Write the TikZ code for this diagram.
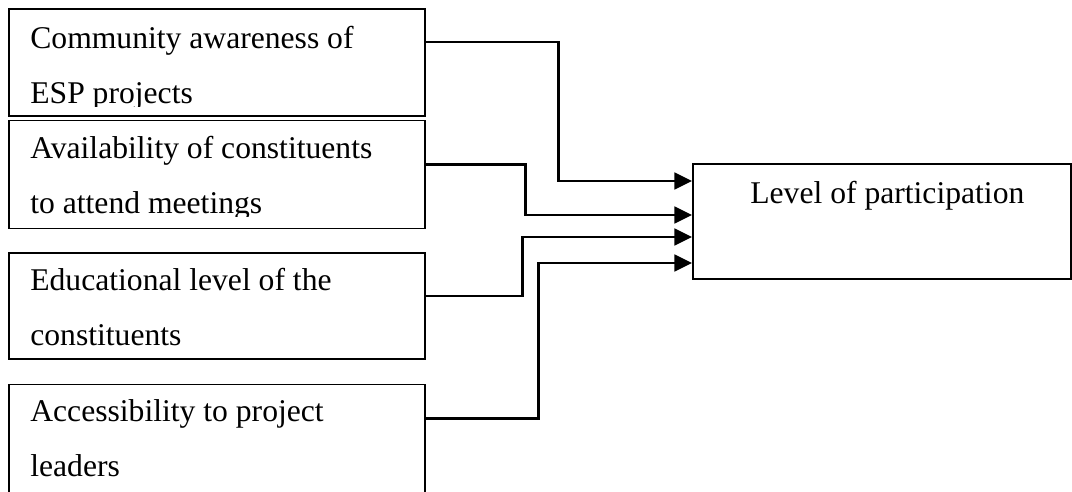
\documentclass[tikz,border=0pt]{standalone}
\usepackage{fontspec}
\setmainfont{Liberation Serif}
\usetikzlibrary{calc}
\usetikzlibrary{positioning}
\usetikzlibrary{arrows.meta}

\begin{document}
\begin{tikzpicture}[x=0.02cm,y=-0.02cm,>={Triangle[length=10pt,width=9.5pt]},
    box/.style={draw,line width=0.9pt,inner sep=0pt,anchor=north west,minimum width=8.32cm},
    boxtext/.style={anchor=base west,align=left,inner sep=0pt,font=\fontsize{18}{31.2}\selectfont},
    conn/.style={->,line width=1.5pt}]
    \clip (0,0) rectangle (1072,491);
    % factor boxes
    \node[box,minimum height=2.14cm] (aware) at (8,8) {};
    \node[box,minimum height=2.16cm,below=0.06cm of aware] (avail) {};
    \node[box,minimum height=2.12cm,below=0.46cm of avail] (educ) {};
    \node[box,minimum height=2.5cm,below=0.48cm of educ] (access) {};
    \node[box,minimum width=7.56cm,minimum height=2.3cm] (level) at (692,163) {};

    % texts (anchored at their last line)
    \begin{scope}
    \clip (aware.north west) rectangle ($(aware.south east)+(0,-10)$);
    \node[boxtext] (awaretxt) at ($(aware.north west)+(22,95)$) {Community awareness of\\ESP projects};
    \end{scope}
    \begin{scope}
    \clip (avail.north west) rectangle ($(avail.south east)+(0,-13)$);
    \node[boxtext] (availtxt) at ($(avail.north west)+(22,94)$) {Availability of constituents\\to attend meetings};
    \end{scope}
    \node[boxtext] (eductxt) at ($(educ.north west)+(22,93)$) {Educational level of the\\constituents};
    \node[boxtext] (accesstxt) at ($(access.north west)+(22,93)$) {Accessibility to project\\leaders};
    \node[boxtext] (leveltxt) at ($(level.north west)+(58,40)$) {Level of participation};

    % connectors
    \coordinate (s1) at ($(aware.north east)+(0,34)$);
    \coordinate (s2) at ($(avail.north east)+(0,45)$);
    \coordinate (s3) at ($(educ.north east)+(0,44)$);
    \coordinate (s4) at ($(access.north east)+(0,35)$);
    \coordinate (e1) at ($(level.north west)+(0,18)$);
    \coordinate (e2) at ($(level.north west)+(0,52)$);
    \coordinate (e3) at ($(level.north west)+(0,74)$);
    \coordinate (e4) at ($(level.north west)+(0,100)$);
    \draw[conn] (s1) -- ++(133,0) |- (e1);
    \draw[conn] (s2) -- ++(100,0) |- (e2);
    \draw[conn] (s3) -- ++(97,0) |- (e3);
    \draw[conn] (s4) -- ++(113,0) |- (e4);
\end{tikzpicture}
\end{document}
